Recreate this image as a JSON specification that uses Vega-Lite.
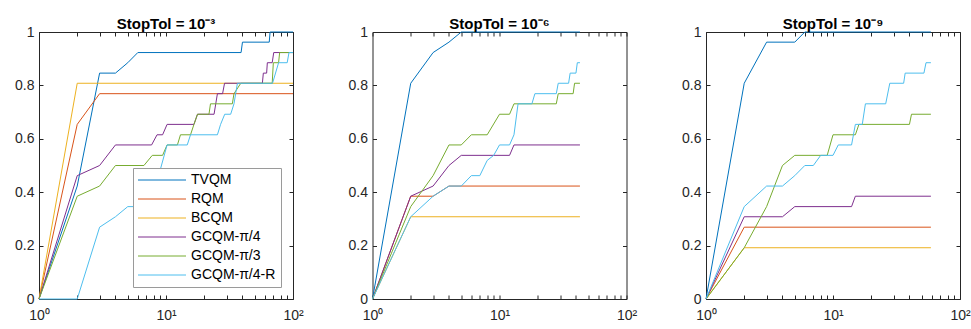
{
  "$schema": "https://vega.github.io/schema/vega-lite/v6.json",
  "padding": {"left": 14, "top": 16, "right": 2, "bottom": 2},
  "background": "white",
  "config": {
    "font": "Liberation Sans",
    "view": {"stroke": "#262626", "strokeWidth": 1},
    "axis": {
      "domain": false, "tickColor": "#262626", "labelColor": "#262626",
      "tickSize": 4, "offset": -4, "tickWidth": 1, "labelPadding": 5, "labelFontSize": 14, "grid": false, "title": null,
      "labelFont": "Liberation Sans"
    },
    "title": {"fontSize": 15, "fontWeight": "bold", "color": "#000000", "offset": -1, "dy": 6, "frame": "group", "anchor": "middle", "font": "Liberation Sans"}
  },
  "datasets": {
    "d": [
      {"p":1,"s":"TVQM","x":1,"y":0},{"p":1,"s":"TVQM","x":2,"y":0.423},{"p":1,"s":"TVQM","x":3,"y":0.846},{"p":1,"s":"TVQM","x":4,"y":0.846},{"p":1,"s":"TVQM","x":5,"y":0.885},{"p":1,"s":"TVQM","x":6,"y":0.923},{"p":1,"s":"TVQM","x":39,"y":0.923},{"p":1,"s":"TVQM","x":40,"y":0.962},{"p":1,"s":"TVQM","x":65,"y":0.962},{"p":1,"s":"TVQM","x":66,"y":1},{"p":1,"s":"TVQM","x":100,"y":1},
      {"p":1,"s":"RQM","x":1,"y":0},{"p":1,"s":"RQM","x":2,"y":0.654},{"p":1,"s":"RQM","x":3,"y":0.769},{"p":1,"s":"RQM","x":100,"y":0.769},
      {"p":1,"s":"BCQM","x":1,"y":0},{"p":1,"s":"BCQM","x":2,"y":0.808},{"p":1,"s":"BCQM","x":100,"y":0.808},
      {"p":1,"s":"GCQM-π/4","x":1,"y":0},{"p":1,"s":"GCQM-π/4","x":2,"y":0.462},{"p":1,"s":"GCQM-π/4","x":3,"y":0.5},{"p":1,"s":"GCQM-π/4","x":4,"y":0.577},{"p":1,"s":"GCQM-π/4","x":7.7,"y":0.577},{"p":1,"s":"GCQM-π/4","x":8.5,"y":0.615},{"p":1,"s":"GCQM-π/4","x":9.4,"y":0.615},{"p":1,"s":"GCQM-π/4","x":10.2,"y":0.654},{"p":1,"s":"GCQM-π/4","x":16.6,"y":0.654},{"p":1,"s":"GCQM-π/4","x":17.7,"y":0.692},{"p":1,"s":"GCQM-π/4","x":23.9,"y":0.692},{"p":1,"s":"GCQM-π/4","x":25.4,"y":0.769},{"p":1,"s":"GCQM-π/4","x":27.9,"y":0.769},{"p":1,"s":"GCQM-π/4","x":28.9,"y":0.808},{"p":1,"s":"GCQM-π/4","x":57.4,"y":0.808},{"p":1,"s":"GCQM-π/4","x":58.4,"y":0.846},{"p":1,"s":"GCQM-π/4","x":62,"y":0.846},{"p":1,"s":"GCQM-π/4","x":62.8,"y":0.885},{"p":1,"s":"GCQM-π/4","x":68.6,"y":0.885},{"p":1,"s":"GCQM-π/4","x":70.5,"y":0.923},{"p":1,"s":"GCQM-π/4","x":100,"y":0.923},
      {"p":1,"s":"GCQM-π/3","x":1,"y":0},{"p":1,"s":"GCQM-π/3","x":2,"y":0.385},{"p":1,"s":"GCQM-π/3","x":3,"y":0.423},{"p":1,"s":"GCQM-π/3","x":4,"y":0.5},{"p":1,"s":"GCQM-π/3","x":6.7,"y":0.5},{"p":1,"s":"GCQM-π/3","x":7.8,"y":0.538},{"p":1,"s":"GCQM-π/3","x":9.4,"y":0.538},{"p":1,"s":"GCQM-π/3","x":10.2,"y":0.577},{"p":1,"s":"GCQM-π/3","x":12.3,"y":0.577},{"p":1,"s":"GCQM-π/3","x":13,"y":0.615},{"p":1,"s":"GCQM-π/3","x":15.6,"y":0.615},{"p":1,"s":"GCQM-π/3","x":16.6,"y":0.654},{"p":1,"s":"GCQM-π/3","x":17.7,"y":0.692},{"p":1,"s":"GCQM-π/3","x":21.8,"y":0.692},{"p":1,"s":"GCQM-π/3","x":22.4,"y":0.731},{"p":1,"s":"GCQM-π/3","x":33.3,"y":0.731},{"p":1,"s":"GCQM-π/3","x":34.3,"y":0.769},{"p":1,"s":"GCQM-π/3","x":38.8,"y":0.808},{"p":1,"s":"GCQM-π/3","x":68.6,"y":0.808},{"p":1,"s":"GCQM-π/3","x":70,"y":0.885},{"p":1,"s":"GCQM-π/3","x":77,"y":0.885},{"p":1,"s":"GCQM-π/3","x":78.5,"y":0.923},{"p":1,"s":"GCQM-π/3","x":100,"y":0.923},
      {"p":1,"s":"GCQM-π/4-R","x":1,"y":0},{"p":1,"s":"GCQM-π/4-R","x":2,"y":0},{"p":1,"s":"GCQM-π/4-R","x":3,"y":0.269},{"p":1,"s":"GCQM-π/4-R","x":4,"y":0.308},{"p":1,"s":"GCQM-π/4-R","x":5,"y":0.346},{"p":1,"s":"GCQM-π/4-R","x":7.5,"y":0.346},{"p":1,"s":"GCQM-π/4-R","x":10.2,"y":0.577},{"p":1,"s":"GCQM-π/4-R","x":14.7,"y":0.577},{"p":1,"s":"GCQM-π/4-R","x":15.6,"y":0.615},{"p":1,"s":"GCQM-π/4-R","x":25.4,"y":0.615},{"p":1,"s":"GCQM-π/4-R","x":26.9,"y":0.654},{"p":1,"s":"GCQM-π/4-R","x":29,"y":0.692},{"p":1,"s":"GCQM-π/4-R","x":32.3,"y":0.692},{"p":1,"s":"GCQM-π/4-R","x":34.3,"y":0.731},{"p":1,"s":"GCQM-π/4-R","x":36.5,"y":0.808},{"p":1,"s":"GCQM-π/4-R","x":69,"y":0.808},{"p":1,"s":"GCQM-π/4-R","x":77,"y":0.885},{"p":1,"s":"GCQM-π/4-R","x":90,"y":0.885},{"p":1,"s":"GCQM-π/4-R","x":93,"y":0.923},{"p":1,"s":"GCQM-π/4-R","x":100,"y":0.923},

      {"p":2,"s":"TVQM","x":1,"y":0},{"p":2,"s":"TVQM","x":2,"y":0.808},{"p":2,"s":"TVQM","x":3,"y":0.923},{"p":2,"s":"TVQM","x":4,"y":0.962},{"p":2,"s":"TVQM","x":5,"y":1},{"p":2,"s":"TVQM","x":43,"y":1},
      {"p":2,"s":"RQM","x":1,"y":0},{"p":2,"s":"RQM","x":2,"y":0.385},{"p":2,"s":"RQM","x":3,"y":0.385},{"p":2,"s":"RQM","x":4,"y":0.423},{"p":2,"s":"RQM","x":43,"y":0.423},
      {"p":2,"s":"BCQM","x":1,"y":0},{"p":2,"s":"BCQM","x":2,"y":0.308},{"p":2,"s":"BCQM","x":43,"y":0.308},
      {"p":2,"s":"GCQM-π/4","x":1,"y":0},{"p":2,"s":"GCQM-π/4","x":2,"y":0.385},{"p":2,"s":"GCQM-π/4","x":3,"y":0.423},{"p":2,"s":"GCQM-π/4","x":4,"y":0.5},{"p":2,"s":"GCQM-π/4","x":5,"y":0.538},{"p":2,"s":"GCQM-π/4","x":12,"y":0.538},{"p":2,"s":"GCQM-π/4","x":13,"y":0.577},{"p":2,"s":"GCQM-π/4","x":43,"y":0.577},
      {"p":2,"s":"GCQM-π/3","x":1,"y":0},{"p":2,"s":"GCQM-π/3","x":2,"y":0.346},{"p":2,"s":"GCQM-π/3","x":3,"y":0.462},{"p":2,"s":"GCQM-π/3","x":4,"y":0.577},{"p":2,"s":"GCQM-π/3","x":5,"y":0.577},{"p":2,"s":"GCQM-π/3","x":6,"y":0.615},{"p":2,"s":"GCQM-π/3","x":8,"y":0.615},{"p":2,"s":"GCQM-π/3","x":10,"y":0.692},{"p":2,"s":"GCQM-π/3","x":12,"y":0.692},{"p":2,"s":"GCQM-π/3","x":13,"y":0.731},{"p":2,"s":"GCQM-π/3","x":28,"y":0.731},{"p":2,"s":"GCQM-π/3","x":29,"y":0.769},{"p":2,"s":"GCQM-π/3","x":38,"y":0.769},{"p":2,"s":"GCQM-π/3","x":39,"y":0.808},{"p":2,"s":"GCQM-π/3","x":43,"y":0.808},
      {"p":2,"s":"GCQM-π/4-R","x":1,"y":0},{"p":2,"s":"GCQM-π/4-R","x":2,"y":0.308},{"p":2,"s":"GCQM-π/4-R","x":3,"y":0.385},{"p":2,"s":"GCQM-π/4-R","x":4,"y":0.423},{"p":2,"s":"GCQM-π/4-R","x":5,"y":0.423},{"p":2,"s":"GCQM-π/4-R","x":6,"y":0.462},{"p":2,"s":"GCQM-π/4-R","x":7,"y":0.462},{"p":2,"s":"GCQM-π/4-R","x":8,"y":0.519},{"p":2,"s":"GCQM-π/4-R","x":9,"y":0.538},{"p":2,"s":"GCQM-π/4-R","x":10,"y":0.577},{"p":2,"s":"GCQM-π/4-R","x":12,"y":0.577},{"p":2,"s":"GCQM-π/4-R","x":13,"y":0.615},{"p":2,"s":"GCQM-π/4-R","x":14,"y":0.731},{"p":2,"s":"GCQM-π/4-R","x":18,"y":0.731},{"p":2,"s":"GCQM-π/4-R","x":19,"y":0.769},{"p":2,"s":"GCQM-π/4-R","x":28,"y":0.769},{"p":2,"s":"GCQM-π/4-R","x":29,"y":0.808},{"p":2,"s":"GCQM-π/4-R","x":35,"y":0.808},{"p":2,"s":"GCQM-π/4-R","x":36,"y":0.846},{"p":2,"s":"GCQM-π/4-R","x":40,"y":0.846},{"p":2,"s":"GCQM-π/4-R","x":41,"y":0.885},{"p":2,"s":"GCQM-π/4-R","x":43,"y":0.885},

      {"p":3,"s":"TVQM","x":1,"y":0},{"p":3,"s":"TVQM","x":2,"y":0.808},{"p":3,"s":"TVQM","x":3,"y":0.962},{"p":3,"s":"TVQM","x":5,"y":0.962},{"p":3,"s":"TVQM","x":6,"y":1},{"p":3,"s":"TVQM","x":59,"y":1},
      {"p":3,"s":"RQM","x":1,"y":0},{"p":3,"s":"RQM","x":2,"y":0.269},{"p":3,"s":"RQM","x":59,"y":0.269},
      {"p":3,"s":"BCQM","x":1,"y":0},{"p":3,"s":"BCQM","x":2,"y":0.192},{"p":3,"s":"BCQM","x":59,"y":0.192},
      {"p":3,"s":"GCQM-π/4","x":1,"y":0},{"p":3,"s":"GCQM-π/4","x":2,"y":0.308},{"p":3,"s":"GCQM-π/4","x":4,"y":0.308},{"p":3,"s":"GCQM-π/4","x":5,"y":0.346},{"p":3,"s":"GCQM-π/4","x":14,"y":0.346},{"p":3,"s":"GCQM-π/4","x":15,"y":0.385},{"p":3,"s":"GCQM-π/4","x":59,"y":0.385},
      {"p":3,"s":"GCQM-π/3","x":1,"y":0},{"p":3,"s":"GCQM-π/3","x":2,"y":0.192},{"p":3,"s":"GCQM-π/3","x":3,"y":0.346},{"p":3,"s":"GCQM-π/3","x":4,"y":0.5},{"p":3,"s":"GCQM-π/3","x":5,"y":0.538},{"p":3,"s":"GCQM-π/3","x":9,"y":0.538},{"p":3,"s":"GCQM-π/3","x":10,"y":0.615},{"p":3,"s":"GCQM-π/3","x":15,"y":0.615},{"p":3,"s":"GCQM-π/3","x":16,"y":0.654},{"p":3,"s":"GCQM-π/3","x":40,"y":0.654},{"p":3,"s":"GCQM-π/3","x":41.5,"y":0.692},{"p":3,"s":"GCQM-π/3","x":59,"y":0.692},
      {"p":3,"s":"GCQM-π/4-R","x":1,"y":0},{"p":3,"s":"GCQM-π/4-R","x":2,"y":0.346},{"p":3,"s":"GCQM-π/4-R","x":3,"y":0.423},{"p":3,"s":"GCQM-π/4-R","x":4,"y":0.423},{"p":3,"s":"GCQM-π/4-R","x":5,"y":0.462},{"p":3,"s":"GCQM-π/4-R","x":6,"y":0.5},{"p":3,"s":"GCQM-π/4-R","x":7,"y":0.5},{"p":3,"s":"GCQM-π/4-R","x":8,"y":0.538},{"p":3,"s":"GCQM-π/4-R","x":10,"y":0.538},{"p":3,"s":"GCQM-π/4-R","x":11,"y":0.577},{"p":3,"s":"GCQM-π/4-R","x":14,"y":0.577},{"p":3,"s":"GCQM-π/4-R","x":15,"y":0.654},{"p":3,"s":"GCQM-π/4-R","x":17,"y":0.654},{"p":3,"s":"GCQM-π/4-R","x":18,"y":0.731},{"p":3,"s":"GCQM-π/4-R","x":26,"y":0.731},{"p":3,"s":"GCQM-π/4-R","x":28,"y":0.808},{"p":3,"s":"GCQM-π/4-R","x":36,"y":0.808},{"p":3,"s":"GCQM-π/4-R","x":37,"y":0.846},{"p":3,"s":"GCQM-π/4-R","x":52,"y":0.846},{"p":3,"s":"GCQM-π/4-R","x":54,"y":0.885},{"p":3,"s":"GCQM-π/4-R","x":59,"y":0.885}
    ]
  },
  "data": {"name": "d"},
  "resolve": {"scale": {"color": "shared"}, "legend": {"color": "independent"}},
  "spacing": 79.5,
  "bounds": "flush",
  "hconcat": [
    {
      "title": "StopTol = 10⁻³",
      "width": 254, "height": 267,
      "transform": [{"filter": "datum.p == 1"}],
      "resolve": {"axis": {"x": "independent", "y": "independent"}},
      "layer": [
        {
          "mark": {"type": "line", "strokeWidth": 1},
          "encoding": {
            "x": {"field": "x", "type": "quantitative", "scale": {"type": "log", "domain": [1, 100]},
                  "axis": {"orient": "bottom", "labelPadding": 9, "values": [1,2,3,4,5,6,7,8,9,10,20,30,40,50,60,70,80,90,100], "labelExpr": "datum.value == 1 ? '10⁰' : datum.value == 10 ? '10¹' : datum.value == 100 ? '10²' : ''", "labelFlush": false, "labelOverlap": false}},
            "y": {"field": "y", "type": "quantitative", "scale": {"domain": [0, 1]},
                  "axis": {"orient": "left", "values": [0,0.2,0.4,0.6,0.8,1], "format": ".1~f"}},
            "color": {"field": "s", "type": "nominal",
                      "scale": {"domain": ["TVQM","RQM","BCQM","GCQM-π/4","GCQM-π/3","GCQM-π/4-R"], "range": ["#0072BD","#D95319","#EDB120","#7E2F8E","#77AC30","#4DBEEE"]},
                      "legend": {"title": null, "orient": "bottom-right", "offset": 12, "symbolType": "M-4,0L4,0", "symbolSize": 144, "symbolStrokeWidth": 1, "symbolOffset": 17, "labelOffset": 22, "labelFontSize": 14, "labelColor": "#000000", "labelFont": "Liberation Sans", "padding": 5, "rowPadding": 5, "strokeColor": "#9a9a9a", "fillColor": "#ffffff", "labelLimit": 300}}
          }
        },
        {
          "mark": {"type": "point", "opacity": 0},
          "encoding": {
            "x": {"field": "x", "type": "quantitative", "scale": {"type": "log", "domain": [1, 100]},
                  "axis": {"orient": "top", "values": [1,2,3,4,5,6,7,8,9,10,20,30,40,50,60,70,80,90,100], "labels": false, "labelPadding": 0, "minExtent": 0, "maxExtent": 0}},
            "y": {"field": "y", "type": "quantitative", "scale": {"domain": [0, 1]},
                  "axis": {"orient": "right", "values": [0,0.2,0.4,0.6,0.8,1], "labels": false, "labelPadding": 0, "minExtent": 0, "maxExtent": 0}}
          }
        }
      ]
    },
    {
      "title": "StopTol = 10⁻⁶",
      "width": 254, "height": 267,
      "transform": [{"filter": "datum.p == 2"}],
      "resolve": {"axis": {"x": "independent", "y": "independent"}},
      "layer": [
        {
          "mark": {"type": "line", "strokeWidth": 1},
          "encoding": {
            "x": {"field": "x", "type": "quantitative", "scale": {"type": "log", "domain": [1, 100]},
                  "axis": {"orient": "bottom", "labelPadding": 9, "values": [1,2,3,4,5,6,7,8,9,10,20,30,40,50,60,70,80,90,100], "labelExpr": "datum.value == 1 ? '10⁰' : datum.value == 10 ? '10¹' : datum.value == 100 ? '10²' : ''", "labelFlush": false, "labelOverlap": false}},
            "y": {"field": "y", "type": "quantitative", "scale": {"domain": [0, 1]},
                  "axis": {"orient": "left", "values": [0,0.2,0.4,0.6,0.8,1], "format": ".1~f"}},
            "color": {"field": "s", "type": "nominal",
                      "scale": {"domain": ["TVQM","RQM","BCQM","GCQM-π/4","GCQM-π/3","GCQM-π/4-R"], "range": ["#0072BD","#D95319","#EDB120","#7E2F8E","#77AC30","#4DBEEE"]},
                      "legend": null}
          }
        },
        {
          "mark": {"type": "point", "opacity": 0},
          "encoding": {
            "x": {"field": "x", "type": "quantitative", "scale": {"type": "log", "domain": [1, 100]},
                  "axis": {"orient": "top", "values": [1,2,3,4,5,6,7,8,9,10,20,30,40,50,60,70,80,90,100], "labels": false, "labelPadding": 0, "minExtent": 0, "maxExtent": 0}},
            "y": {"field": "y", "type": "quantitative", "scale": {"domain": [0, 1]},
                  "axis": {"orient": "right", "values": [0,0.2,0.4,0.6,0.8,1], "labels": false, "labelPadding": 0, "minExtent": 0, "maxExtent": 0}}
          }
        }
      ]
    },
    {
      "title": "StopTol = 10⁻⁹",
      "width": 254, "height": 267,
      "transform": [{"filter": "datum.p == 3"}],
      "resolve": {"axis": {"x": "independent", "y": "independent"}},
      "layer": [
        {
          "mark": {"type": "line", "strokeWidth": 1},
          "encoding": {
            "x": {"field": "x", "type": "quantitative", "scale": {"type": "log", "domain": [1, 100]},
                  "axis": {"orient": "bottom", "labelPadding": 9, "values": [1,2,3,4,5,6,7,8,9,10,20,30,40,50,60,70,80,90,100], "labelExpr": "datum.value == 1 ? '10⁰' : datum.value == 10 ? '10¹' : datum.value == 100 ? '10²' : ''", "labelFlush": false, "labelOverlap": false}},
            "y": {"field": "y", "type": "quantitative", "scale": {"domain": [0, 1]},
                  "axis": {"orient": "left", "values": [0,0.2,0.4,0.6,0.8,1], "format": ".1~f"}},
            "color": {"field": "s", "type": "nominal",
                      "scale": {"domain": ["TVQM","RQM","BCQM","GCQM-π/4","GCQM-π/3","GCQM-π/4-R"], "range": ["#0072BD","#D95319","#EDB120","#7E2F8E","#77AC30","#4DBEEE"]},
                      "legend": null}
          }
        },
        {
          "mark": {"type": "point", "opacity": 0},
          "encoding": {
            "x": {"field": "x", "type": "quantitative", "scale": {"type": "log", "domain": [1, 100]},
                  "axis": {"orient": "top", "values": [1,2,3,4,5,6,7,8,9,10,20,30,40,50,60,70,80,90,100], "labels": false, "labelPadding": 0, "minExtent": 0, "maxExtent": 0}},
            "y": {"field": "y", "type": "quantitative", "scale": {"domain": [0, 1]},
                  "axis": {"orient": "right", "values": [0,0.2,0.4,0.6,0.8,1], "labels": false, "labelPadding": 0, "minExtent": 0, "maxExtent": 0}}
          }
        }
      ]
    }
  ]
}
